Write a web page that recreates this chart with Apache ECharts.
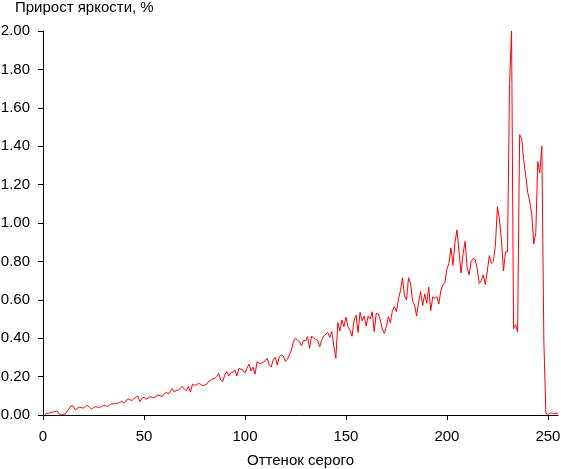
<!DOCTYPE html>
<html>
<head>
<meta charset="utf-8">
<script src="https://cdn.jsdelivr.net/npm/echarts@6/dist/echarts.min.js"></script>
<style>
html,body{margin:0;padding:0;background:#fff;}
#chart{width:561px;height:469px;}
</style>
</head>
<body>
<div id="chart"></div>
<script>
var titleText = "Прирост яркости, %";
var xAxisName = "Оттенок серого";
var xTicks = [0, 50, 100, 150, 200, 250];
var yTicks = [0, 0.2, 0.4, 0.6, 0.8, 1.0, 1.2, 1.4, 1.6, 1.8, 2.0];
var grayStart = 1;
var increments = [
  0.004, 0.007, 0.010, 0.014, 0.015, 0.018, 0.021, 0.005, 0.000, 0.003,
  0.005, 0.020, 0.035, 0.049, 0.045, 0.026, 0.035, 0.040, 0.038, 0.036,
  0.045, 0.050, 0.040, 0.031, 0.038, 0.043, 0.041, 0.040, 0.044, 0.050,
  0.048, 0.045, 0.052, 0.059, 0.058, 0.060, 0.061, 0.066, 0.071, 0.063,
  0.072, 0.085, 0.080, 0.075, 0.086, 0.092, 0.099, 0.069, 0.088, 0.092,
  0.082, 0.088, 0.095, 0.093, 0.089, 0.097, 0.104, 0.100, 0.096, 0.110,
  0.118, 0.110, 0.122, 0.137, 0.120, 0.128, 0.130, 0.140, 0.148, 0.135,
  0.127, 0.148, 0.120, 0.160, 0.155, 0.158, 0.165, 0.160, 0.153, 0.155,
  0.160, 0.175, 0.180, 0.189, 0.190, 0.200, 0.217, 0.182, 0.174, 0.208,
  0.226, 0.203, 0.220, 0.220, 0.234, 0.203, 0.243, 0.238, 0.234, 0.220,
  0.243, 0.265, 0.230, 0.250, 0.213, 0.278, 0.269, 0.269, 0.274, 0.283,
  0.295, 0.260, 0.250, 0.286, 0.300, 0.260, 0.304, 0.313, 0.307, 0.279,
  0.290, 0.313, 0.338, 0.382, 0.400, 0.390, 0.382, 0.360, 0.390, 0.385,
  0.408, 0.347, 0.411, 0.400, 0.394, 0.390, 0.356, 0.390, 0.411, 0.422,
  0.430, 0.404, 0.434, 0.359, 0.295, 0.481, 0.437, 0.495, 0.460, 0.509,
  0.460, 0.443, 0.410, 0.491, 0.520, 0.430, 0.535, 0.490, 0.515, 0.463,
  0.516, 0.500, 0.538, 0.434, 0.530, 0.526, 0.495, 0.448, 0.425, 0.460,
  0.512, 0.480, 0.544, 0.564, 0.538, 0.604, 0.648, 0.715, 0.620, 0.600,
  0.715, 0.686, 0.594, 0.573, 0.516, 0.590, 0.643, 0.570, 0.630, 0.582,
  0.665, 0.544, 0.616, 0.608, 0.616, 0.578, 0.650, 0.677, 0.690, 0.760,
  0.790, 0.870, 0.780, 0.900, 0.964, 0.850, 0.740, 0.840, 0.905, 0.770,
  0.730, 0.800, 0.815, 0.810, 0.760, 0.685, 0.700, 0.730, 0.680, 0.750,
  0.830, 0.790, 0.800, 0.885, 1.085, 1.020, 0.910, 0.750, 0.850, 0.850,
  1.720, 2.000, 0.450, 0.470, 0.434, 1.460, 1.440, 1.330, 1.250, 1.160,
  1.110, 1.050, 0.890, 0.950, 1.320, 1.260, 1.400, 0.380, 0.010, 0.003,
  0.008, 0.012, 0.005, 0.010, 0.006
];

var seriesData = increments.map(function (v, i) { return [grayStart + i, v]; });

var chart = echarts.init(document.getElementById('chart'), null, {renderer: 'canvas'});
var font = 'Liberation Sans, Arial, sans-serif';
chart.setOption({
  animation: false,
  backgroundColor: '#ffffff',
  title: {
    text: titleText,
    left: 15,
    top: 0,
    padding: 0,
    textStyle: {fontFamily: font, fontSize: 15, fontWeight: 'normal', color: '#000'}
  },
  grid: {left: 43, right: 3, top: 31, bottom: 54, containLabel: false, outerBoundsMode: 'none'},
  xAxis: {
    type: 'value',
    min: 0,
    max: 255,
    interval: 50,
    name: xAxisName,
    nameLocation: 'middle',
    nameGap: 38,
    nameTextStyle: {fontFamily: font, fontSize: 15, color: '#000'},
    axisLine: {lineStyle: {color: '#000', width: 1}},
    axisTick: {show: true, length: 5, lineStyle: {color: '#000'}, customValues: xTicks},
    axisLabel: {fontFamily: font, fontSize: 15, color: '#000', margin: 14, customValues: xTicks},
    splitLine: {show: false}
  },
  yAxis: {
    type: 'value',
    min: 0,
    max: 2,
    interval: 0.2,
    axisLine: {show: true, lineStyle: {color: '#000', width: 1}},
    axisTick: {show: true, length: 5, lineStyle: {color: '#000'}, customValues: yTicks},
    axisLabel: {fontFamily: font, fontSize: 15, color: '#000', margin: 13,
      customValues: yTicks,
      formatter: function (v) { return v.toFixed(2); }},
    splitLine: {show: false}
  },
  series: [{
    type: 'line',
    data: seriesData,
    showSymbol: false,
    symbol: 'none',
    lineStyle: {color: '#ff0000', width: 1},
    itemStyle: {color: '#ff0000'}
  }]
});
</script>
</body>
</html>
